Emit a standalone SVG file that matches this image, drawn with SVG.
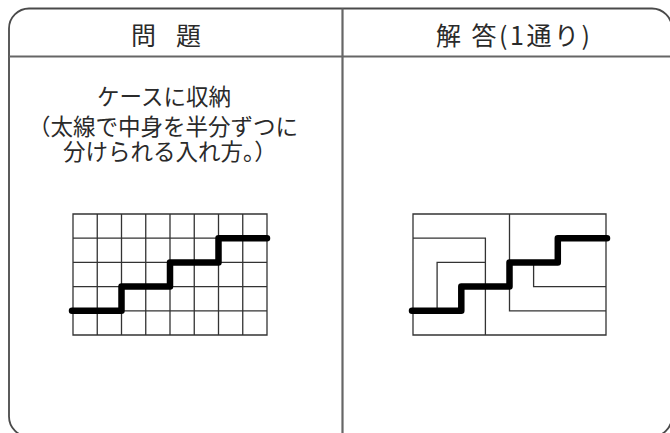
<svg xmlns="http://www.w3.org/2000/svg" width="670" height="433" viewBox="0 0 670 433">
<style>
.frame{fill:none;stroke:#4a4a4a;stroke-width:1.8}
.rule{stroke:#666;stroke-width:2.2;fill:none}
.grid{stroke:#333;stroke-width:1.3;fill:none}
.stair{stroke:#000;stroke-width:6.5;fill:none;stroke-linecap:round;stroke-linejoin:round}
.t{font-family:"Noto Sans CJK JP","Noto Sans",sans-serif;fill:#2a2a2a}
.h{font-size:25px}
.b{font-size:22.5px}
</style>
<rect width="670" height="433" fill="#fff"/>
<g id="frame">
<rect class="frame" x="9" y="8.5" width="663" height="428" rx="20"/>
<line class="rule" x1="9" y1="56.5" x2="670" y2="56.5"/>
<line class="rule" x1="342.5" y1="8.5" x2="342.5" y2="433"/>
</g>
<g id="header-problem"><text class="t h" x="166" y="45" text-anchor="middle" textLength="70" lengthAdjust="spacing">問 題</text></g>
<g id="header-answer"><text class="t h" x="436" y="45" letter-spacing="2.5">解 答(1通り)</text></g>
<g id="problem-text">
<text class="t b" x="97" y="105">ケースに収納</text>
<text class="t b" x="28" y="135">（太線で中身を半分ずつに</text>
<text class="t b" x="63" y="160">分けられる入れ方。）</text>
</g>
<g id="problem-grid">
<path class="grid" d="M73,214H267V335H73Z M97.25,214V335 M121.5,214V335 M145.75,214V335 M170,214V335 M194.25,214V335 M218.5,214V335 M242.75,214V335 M73,238.2H267 M73,262.4H267 M73,286.6H267 M73,310.8H267"/>
<path class="stair" d="M72,310.8H121.5V286.6H170V262.4H218.5V238.2H267"/>
</g>
<g id="answer-diagram">
<path class="grid" d="M413,214H606V335H413Z M509.5,214V310.8H606 M413,238.2H485.4V335 M437.1,310.8V262.4H485.4 M533.6,262.4V286.6H606"/>
<path class="stair" d="M412,310.8H461.3V286.6H509.5V262.4H557.8V238.2H607"/>
</g>
</svg>
